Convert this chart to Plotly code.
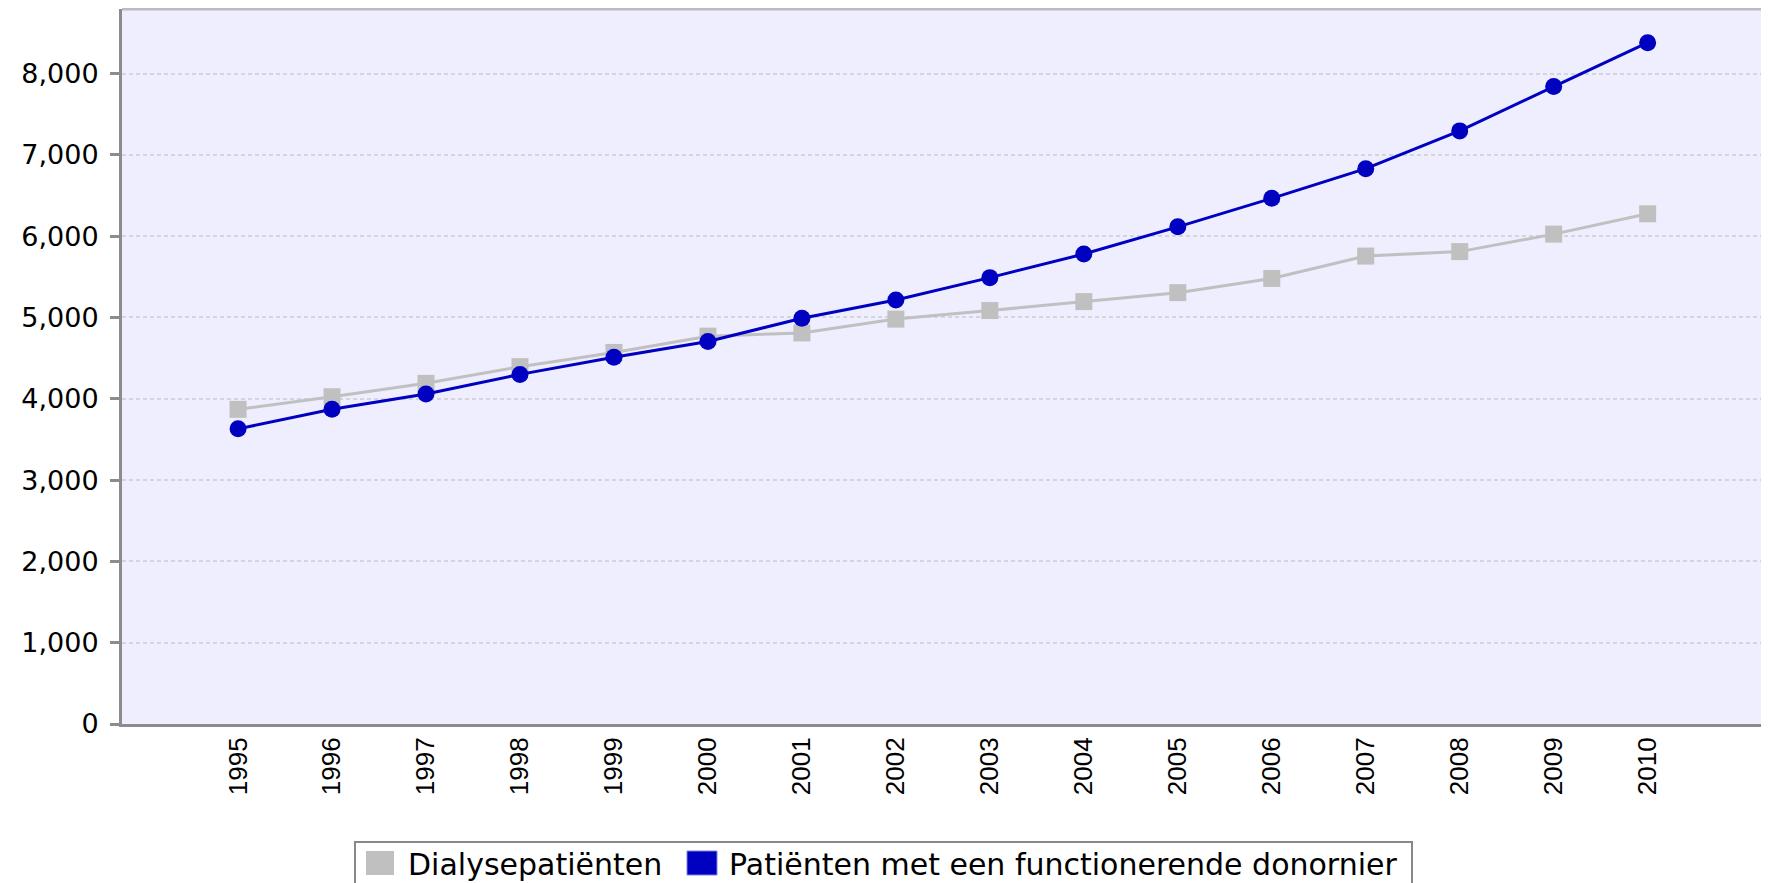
import plotly.graph_objects as go

years = ["1995", "1996", "1997", "1998", "1999", "2000", "2001", "2002",
         "2003", "2004", "2005", "2006", "2007", "2008", "2009", "2010"]
dialyse = [3870, 4025, 4190, 4395, 4570, 4770, 4810, 4980,
           5085, 5195, 5305, 5480, 5755, 5810, 6025, 6275]
donornier = [3630, 3870, 4060, 4300, 4510, 4705, 4990, 5215,
             5490, 5780, 6115, 6465, 6830, 7295, 7840, 8380]
y_ticks = [0, 1000, 2000, 3000, 4000, 5000, 6000, 7000, 8000]
series_names = ["Dialysepatiënten", "Patiënten met een functionerende donornier"]

GREY = "#C0C0C0"
BLUE = "#0000C0"

# figure geometry (page body has an 8px margin)
W, H = 1761, 875
ML, MR, MT, MB = 114, 2, 1, 159
PW = W - ML - MR
PH = H - MT - MB


def px(x):
    return (x - ML) / PW


def py(y):
    return (H - MB - y) / PH


fig = go.Figure()
fig.add_trace(go.Scatter(
    x=years, y=dialyse, mode="lines+markers", name=series_names[0],
    line=dict(color=GREY, width=3),
    marker=dict(symbol="square", size=17, color=GREY),
    showlegend=False,
))
fig.add_trace(go.Scatter(
    x=years, y=donornier, mode="lines+markers", name=series_names[1],
    line=dict(color=BLUE, width=3),
    marker=dict(symbol="circle", size=17, color=BLUE),
    showlegend=False,
))

# hand-drawn legend box (matching the original's large square swatches)
legend_shapes = [
    dict(type="rect", xref="paper", yref="paper",
         x0=px(347), x1=px(1404), y0=py(895), y1=py(834),
         line=dict(color="#888888", width=2), fillcolor="white", layer="above"),
    dict(type="rect", xref="paper", yref="paper",
         x0=px(358), x1=px(386), y0=py(867), y1=py(843),
         line=dict(width=0), fillcolor=GREY, layer="above"),
    dict(type="rect", xref="paper", yref="paper",
         x0=px(679), x1=px(709), y0=py(867), y1=py(843),
         line=dict(color="#8080E0", width=1), fillcolor=BLUE, layer="above"),
]
legend_texts = [
    dict(text=series_names[0], xref="paper", yref="paper",
         x=px(398), y=py(856), xanchor="left", yanchor="middle",
         showarrow=False, font=dict(family="DejaVu Sans", size=30, color="black")),
    dict(text=series_names[1], xref="paper", yref="paper",
         x=px(719), y=py(856), xanchor="left", yanchor="middle",
         showarrow=False, font=dict(family="DejaVu Sans", size=30, color="black")),
]

fig.update_layout(
    width=W, height=H,
    margin=dict(l=ML, r=MR, t=MT, b=MB, autoexpand=False),
    paper_bgcolor="white",
    plot_bgcolor="#EEEEFF",
    font=dict(family="DejaVu Sans", size=24, color="black"),
    showlegend=False,
    xaxis=dict(
        type="category",
        categoryorder="array", categoryarray=years,
        range=[-1.235, 16.27],
        tickangle=-90,
        ticks="",
        showgrid=False,
        showline=True, linecolor="#8C8C8C", linewidth=3,
        tickfont=dict(family="Liberation Sans", size=26, color="black"),
        ticklabelstandoff=0,
        zeroline=False,
    ),
    yaxis=dict(
        range=[0, 8794],
        tickvals=y_ticks,
        tickformat=",",
        ticks="outside", ticklen=9, tickwidth=3, tickcolor="#8C8C8C",
        showline=True, linecolor="#8C8C8C", linewidth=3,
        showgrid=True, gridcolor="#D4D4DC", gridwidth=1.5, griddash="4px,3px",
        zeroline=False,
        tickfont=dict(family="DejaVu Sans", size=27, color="black"),
        ticklabelstandoff=6,
    ),
    shapes=[
        dict(type="line", xref="paper", yref="paper", x0=0, x1=1, y0=1, y1=1,
             line=dict(color="#BBBBC4", width=3)),
        dict(type="line", xref="paper", yref="paper", x0=1, x1=1, y0=0, y1=1,
             line=dict(color="#BBBBC4", width=3)),
    ] + legend_shapes,
    annotations=legend_texts,
)

fig.write_html("out.html")
